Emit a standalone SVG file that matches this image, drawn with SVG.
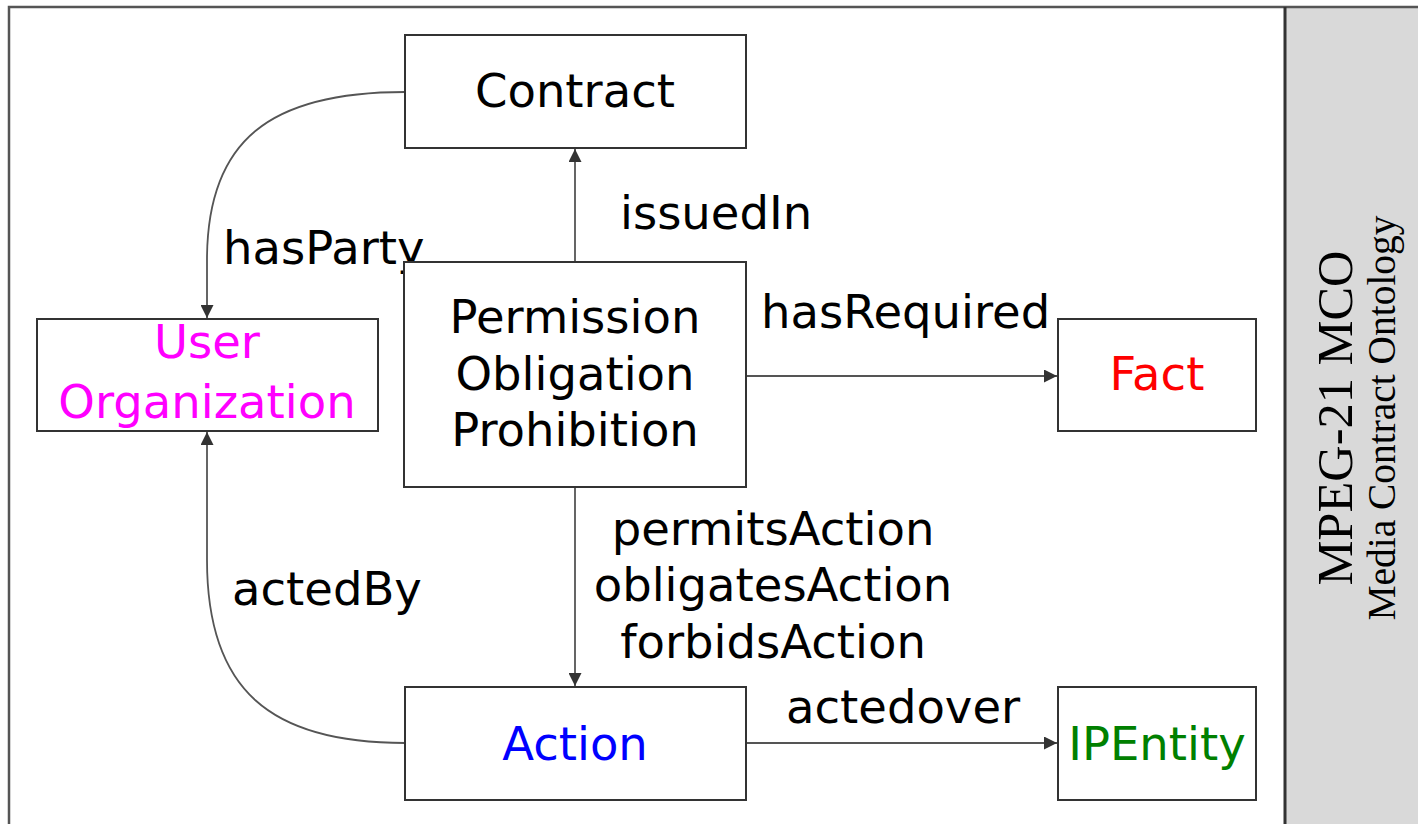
<svg xmlns="http://www.w3.org/2000/svg" width="1418" height="824" viewBox="0 0 1418 824">
<style>
.box{fill:#fff;stroke:#333;stroke-width:2}
.lbl{font-family:"DejaVu Sans",Verdana,sans-serif;font-size:46.5px;fill:#000}
.mid{text-anchor:middle}
.con{fill:none;stroke:#555;stroke-width:1.8}
.side{font-family:"Liberation Serif","Times New Roman",serif;fill:#000;text-anchor:middle}
</style>
<defs>
<marker id="ah" viewBox="0 0 10 10" refX="10" refY="5" markerWidth="13" markerHeight="13" markerUnits="userSpaceOnUse" orient="auto">
<path d="M0,0 L10,5 L0,10 Z" fill="#333"/>
</marker>
</defs>
<rect x="0" y="0" width="1418" height="824" fill="#fff"/>
<g id="frame">
<rect x="1285" y="7" width="133" height="817" fill="#d9d9d9"/>
<path d="M9,824 L9,7 L1418,7" fill="none" stroke="#555" stroke-width="2.5"/>
<line x1="1285" y1="7" x2="1285" y2="824" stroke="#333" stroke-width="3"/>
<text class="side" font-size="50" transform="translate(1352,418) rotate(-90)" textLength="335" lengthAdjust="spacingAndGlyphs">MPEG-21 MCO</text>
<text class="side" font-size="40" transform="translate(1395,418) rotate(-90)" textLength="405" lengthAdjust="spacingAndGlyphs">Media Contract Ontology</text>
</g>
<g id="connectors">
<path class="con" d="M405,92 C270,92 207,140 207,260 L207,318" marker-end="url(#ah)"/>
<line class="con" x1="575" y1="262" x2="575" y2="149" marker-end="url(#ah)"/>
<line class="con" x1="746" y1="376" x2="1057" y2="376" marker-end="url(#ah)"/>
<line class="con" x1="575" y1="487" x2="575" y2="686" marker-end="url(#ah)"/>
<path class="con" d="M405,743 C270,743 207,690 207,560 L207,432" marker-end="url(#ah)"/>
<line class="con" x1="746" y1="743" x2="1057" y2="743" marker-end="url(#ah)"/>
<text class="lbl" x="620" y="229">issuedIn</text>
<text class="lbl" x="223" y="264">hasParty</text>
<text class="lbl" x="761" y="328">hasRequired</text>
<text class="lbl mid" x="773" y="545">permitsAction</text>
<text class="lbl mid" x="773" y="601">obligatesAction</text>
<text class="lbl mid" x="773" y="658">forbidsAction</text>
<text class="lbl" x="232" y="605">actedBy</text>
<text class="lbl" x="786" y="723">actedover</text>
</g>
<g id="contract">
<rect class="box" x="405" y="35" width="341" height="113"/>
<text class="lbl mid" x="575" y="107">Contract</text>
</g>
<g id="deontic">
<rect class="box" x="404" y="262" width="342" height="225"/>
<text class="lbl mid" x="575" y="333">Permission</text>
<text class="lbl mid" x="575" y="390">Obligation</text>
<text class="lbl mid" x="575" y="446">Prohibition</text>
</g>
<g id="user">
<rect class="box" x="37" y="319" width="341" height="112"/>
<text class="lbl mid" x="207" y="358" style="fill:#ff00ff">User</text>
<text class="lbl mid" x="207" y="418" style="fill:#ff00ff">Organization</text>
</g>
<g id="fact">
<rect class="box" x="1058" y="319" width="198" height="112"/>
<text class="lbl mid" x="1157" y="390" style="fill:#ff0000">Fact</text>
</g>
<g id="action">
<rect class="box" x="405" y="687" width="341" height="113"/>
<text class="lbl mid" x="575" y="760" style="fill:#0000ff">Action</text>
</g>
<g id="ipentity">
<rect class="box" x="1058" y="687" width="198" height="113"/>
<text class="lbl mid" x="1157" y="760" style="fill:#008000">IPEntity</text>
</g>
</svg>
